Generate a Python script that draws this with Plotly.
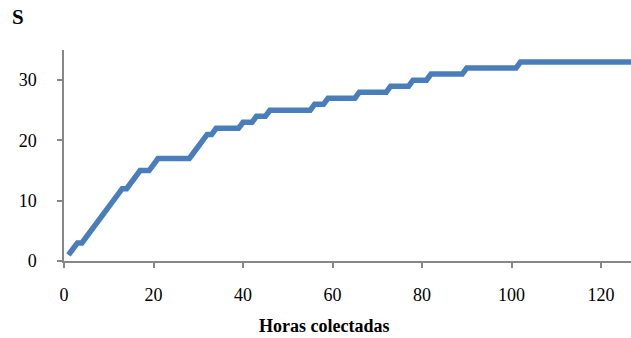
import plotly.graph_objects as go

hours = list(range(1, 128))
species = (
    [1, 2, 3, 3, 4, 5, 6, 7, 8, 9, 10, 11, 12, 12, 13, 14, 15, 15, 15, 16]  # 1-20
    + [17] * 8            # 21-28
    + [18, 19, 20, 21, 21]  # 29-33
    + [22] * 6            # 34-39
    + [23, 23, 23]        # 40-42
    + [24, 24, 24]        # 43-45
    + [25] * 10           # 46-55
    + [26] * 3            # 56-58
    + [27] * 7            # 59-65
    + [28] * 7            # 66-72
    + [29] * 5            # 73-77
    + [30] * 4            # 78-81
    + [31] * 8            # 82-89
    + [32] * 12           # 90-101
    + [33] * 26           # 102-127
)
x_ticks = [0, 20, 40, 60, 80, 100, 120]
y_ticks = [0, 10, 20, 30]

font_family = "Liberation Serif, serif"
axis_color = "#878787"
tick_font = dict(family=font_family, size=18, color="black")

fig = go.Figure()
fig.add_trace(go.Scatter(
    x=hours, y=species, mode="lines",
    line=dict(color="#4a7ebb", width=5.5, shape="linear"),
    showlegend=False, hoverinfo="skip",
))

fig.update_layout(
    width=631, height=338,
    margin=dict(l=64, r=0, t=50, b=77),
    paper_bgcolor="white", plot_bgcolor="white",
    font=dict(family=font_family, size=18, color="black"),
    xaxis=dict(
        range=[0, 126.7], tickvals=x_ticks, ticktext=[str(v) for v in x_ticks],
        tickfont=tick_font,
        showgrid=False, zeroline=False, showline=True, linecolor=axis_color, linewidth=1.5,
        ticks="outside", ticklen=5, tickcolor=axis_color, tickwidth=1.5,
        ticklabelstandoff=12,
    ),
    yaxis=dict(
        range=[0, 35], tickvals=y_ticks, ticktext=[str(v) for v in y_ticks],
        tickfont=tick_font,
        showgrid=False, zeroline=False, showline=True, linecolor=axis_color, linewidth=1.5,
        ticks="outside", ticklen=5, tickcolor=axis_color, tickwidth=1.5,
        ticklabelstandoff=17,
    ),
    annotations=[
        dict(text="<b>S</b>", xref="paper", yref="paper", x=(18 - 64) / 567, y=(261 - 17) / 211,
             xanchor="center", yanchor="middle", showarrow=False,
             font=dict(family=font_family, size=21, color="black")),
        dict(text="<b>Horas colectadas</b>", xref="paper", yref="paper",
             x=(324 - 64) / 567, y=(261 - 326) / 211,
             xanchor="center", yanchor="middle", showarrow=False,
             font=dict(family=font_family, size=18, color="black")),
    ],
)

fig.write_html("out.html")
